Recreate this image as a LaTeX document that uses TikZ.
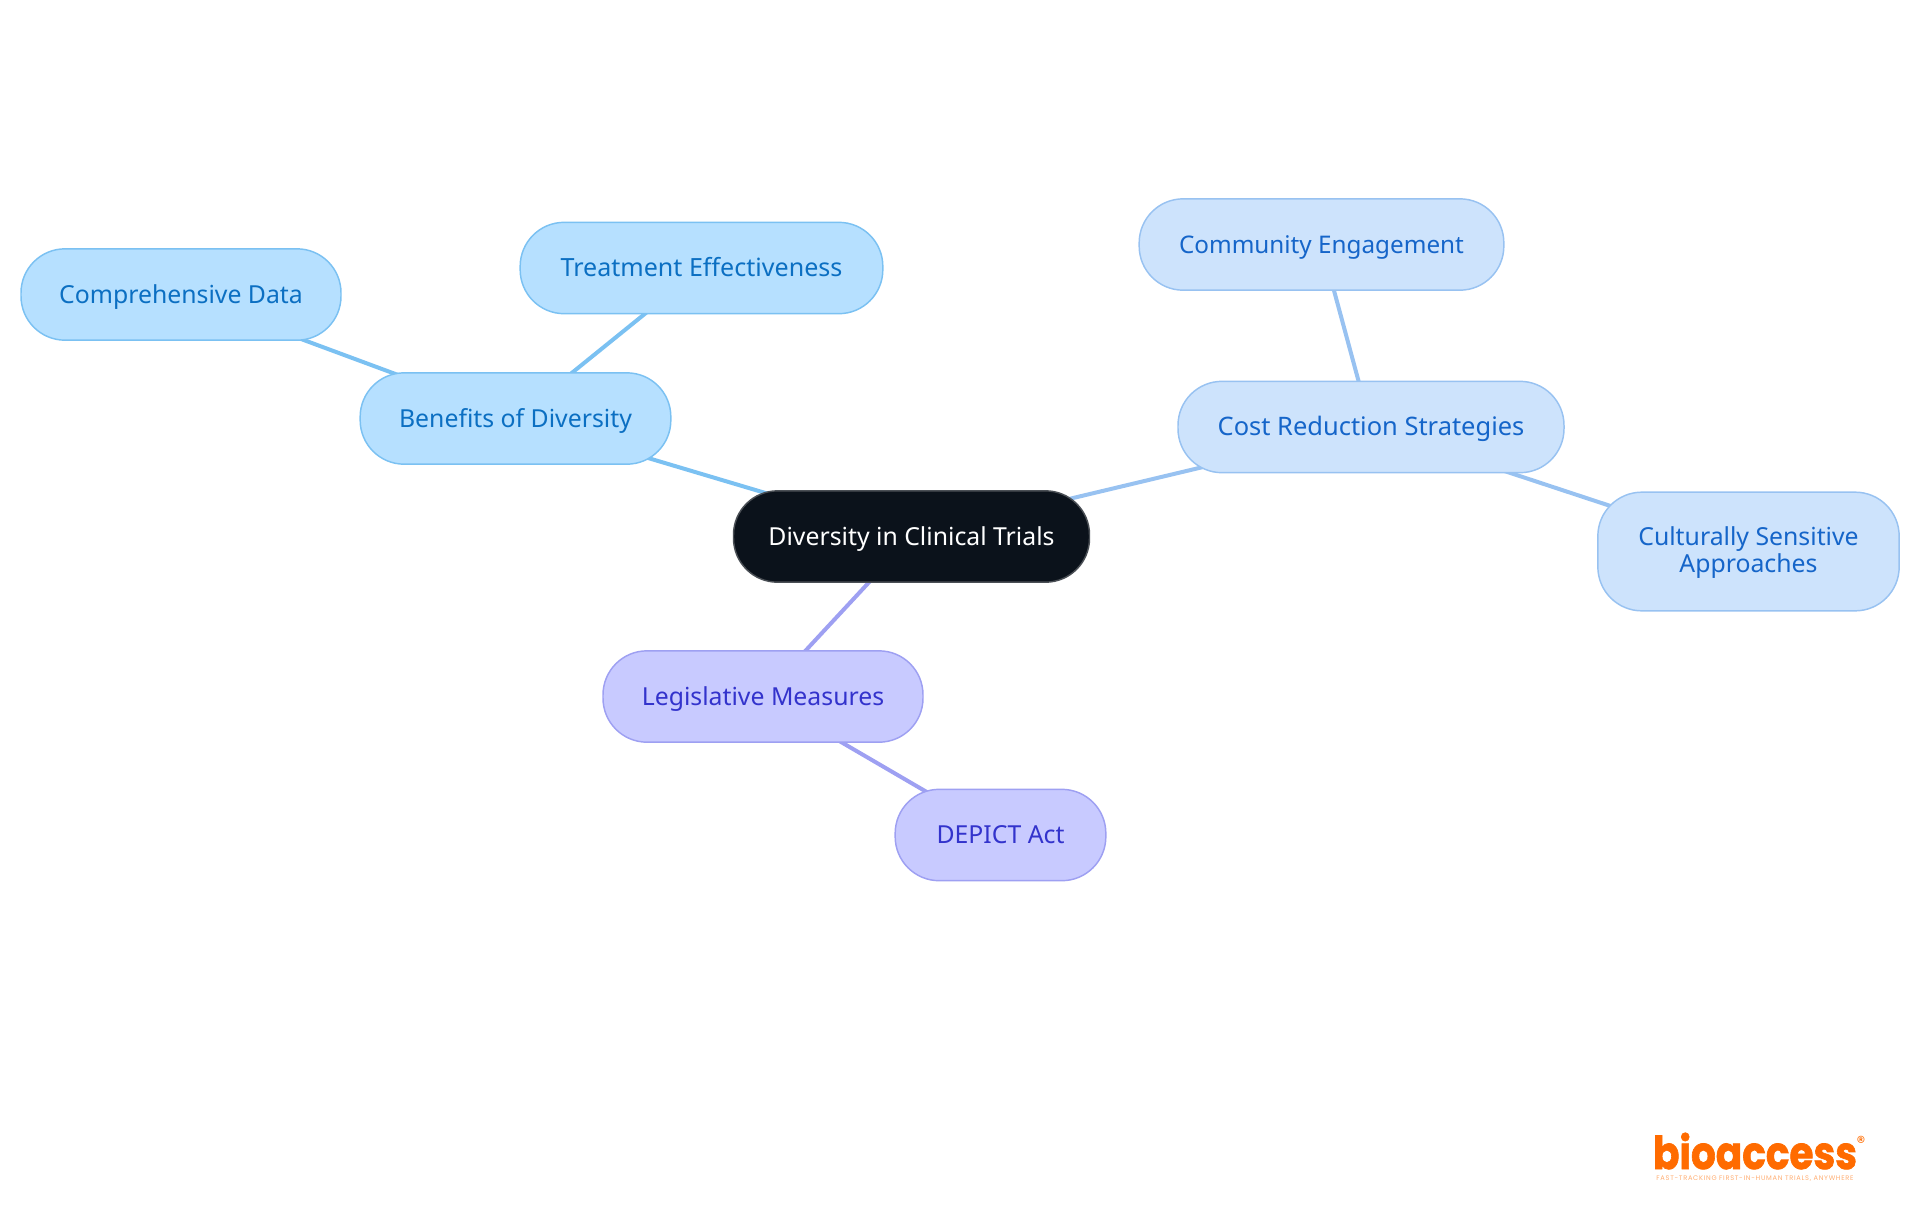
\documentclass[tikz,border=0pt]{standalone}
\usepackage{fontspec}
\setmainfont{Noto Sans}
\newfontfamily\logofont[BoldFeatures={FakeBold=1.6}]{Poppins}
\newfontfamily\tagfont[LetterSpace=10.5]{Poppins}
\usetikzlibrary{backgrounds}
\definecolor{skyFill}{HTML}{B6E0FF}
\definecolor{skyLine}{HTML}{7BC1F2}
\definecolor{skyText}{HTML}{0B6FC2}
\definecolor{paleFill}{HTML}{CDE3FC}
\definecolor{paleLine}{HTML}{98C2F1}
\definecolor{paleText}{HTML}{1565C9}
\definecolor{violetFill}{HTML}{C8CAFF}
\definecolor{violetLine}{HTML}{9EA0F2}
\definecolor{violetText}{HTML}{3333CC}
\definecolor{rootFill}{HTML}{0B121B}
\definecolor{rootLine}{HTML}{4A4F55}
\definecolor{logoOrange}{HTML}{FF6B00}
\tikzset{
  x=0.75pt,y=-0.75pt,
  mapnode/.style={rectangle,rounded corners=33pt,line width=1.1pt,align=center,inner sep=0pt,
    text height=14pt,text depth=1.2pt,minimum height=68.5pt,
    font=\fontsize{18.6}{20.6}\selectfont},
  sky/.style={mapnode,draw=skyLine,fill=skyFill,text=skyText},
  pale/.style={mapnode,draw=paleLine,fill=paleFill,text=paleText},
  violet/.style={mapnode,draw=violetLine,fill=violetFill,text=violetText},
  root/.style={mapnode,draw=rootLine,fill=rootFill,text=white},
  link/.style={line width=3pt},
}
\begin{document}
\begin{tikzpicture}
\useasboundingbox (0,0) rectangle (1920,1215);
\node[root,minimum width=267pt] (center) at (911.5,536.5) {Diversity in Clinical Trials};
\node[sky,minimum width=233pt] (benefits) at (515.5,418.5) {Benefits of Diversity};
\node[sky,minimum width=272pt] (treatment) at (701.5,268) {\fontsize{18.8}{20.6}\selectfont Treatment Effectiveness};
\node[sky,minimum width=240pt] (data) at (181,294.5) {Comprehensive Data};
\node[pale,minimum width=289.5pt] (cost) at (1371,427) {\fontsize{19.1}{20.6}\selectfont Cost Reduction Strategies};
\node[pale,minimum width=273.5pt] (community) at (1321.5,244.5) {\fontsize{18.2}{20.6}\selectfont Community Engagement};
\node[pale,minimum width=226pt,minimum height=89pt,text height=34pt,text depth=2.4pt] (culture) at (1748.5,551.5) {Culturally Sensitive\\Approaches};
\node[violet,minimum width=240pt] (law) at (763,696.5) {Legislative Measures};
\node[violet,minimum width=158pt] (depict) at (1000.5,835) {DEPICT Act};
\begin{scope}[on background layer]
\draw[link,skyLine] (center.center) -- (benefits.center);
\draw[link,skyLine] (benefits.center) -- (treatment.center);
\draw[link,skyLine] (benefits.center) -- (data.center);
\draw[link,paleLine] (center.center) -- (cost.center);
\draw[link,paleLine] (cost.center) -- (community.center);
\draw[link,paleLine] (cost.center) -- (culture.center);
\draw[link,violetLine] (center.center) -- (law.center);
\draw[link,violetLine] (law.center) -- (depict.center);
\end{scope}
\node[inner sep=0pt,text=logoOrange,xscale=0.86,anchor=base,font=\logofont\bfseries\fontsize{34}{34}\selectfont] (logo) at (1755,1169) {bioaccess};
\node[inner sep=0pt,text=logoOrange,font=\logofont\fontsize{13}{13}\selectfont] (reg) at (1861,1142) {®};
\node[inner sep=0pt,text=logoOrange!55,anchor=base,font=\tagfont\fontsize{5}{6}\selectfont] (tag) at (1755,1180) {FAST-TRACKING FIRST-IN-HUMAN TRIALS, ANYWHERE};
\end{tikzpicture}
\end{document}
